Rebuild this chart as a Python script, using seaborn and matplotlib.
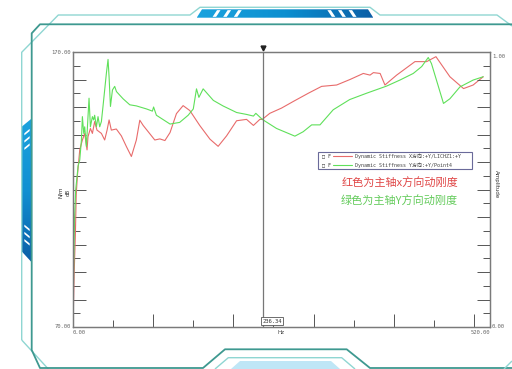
import numpy as np
import pandas as pd
import matplotlib
matplotlib.use("Agg")
import matplotlib.pyplot as plt
import seaborn as sns
from matplotlib.patches import Polygon, Rectangle
from matplotlib.lines import Line2D
from matplotlib.ticker import MultipleLocator

# ---------------- data ----------------
hz_x = [0, 1.5, 3, 4, 5.5, 8.4, 11.7, 14.6, 17.5, 18.7, 21.7, 24.2, 27, 29.9, 35.4, 39.5, 42.5,
        45, 47.8, 54, 60.3, 66.6, 72.8, 79, 83.3, 87.5, 93.8, 102, 108.3, 114.6, 121, 129, 137.3,
        145.7, 158, 170.8, 181, 191.5, 204, 216.4, 225, 233, 236, 245.4, 260, 274.6, 293.4, 310,
        328.8, 345.4, 362, 370.4, 374.6, 383, 389, 403.6, 426.4, 441, 452.6, 470, 487, 499, 511.5]
db_x = [70, 90, 104, 118, 125, 134.4, 138, 140.4, 134.4, 139.2, 142.2, 140.4, 144.7, 141.6, 140.4,
        138, 141.6, 145.3, 141.6, 142, 139.5, 135.6, 132, 138, 145.2, 143.3, 141, 138, 138.4,
        137.8, 140.7, 147.6, 150.5, 148.7, 143.3, 138.3, 135.7, 139.5, 145, 145.5, 143.3, 145.5,
        145.5, 147.7, 149.6, 152, 155, 157.5, 158, 160, 162.2, 161.6, 162.5, 162.2, 158, 161.6,
        166.5, 166.5, 168.3, 161, 156.7, 158, 161]

hz_y = [0, 0.8, 2, 3.4, 5.5, 6.3, 8.4, 10.5, 11.7, 13.4, 14.6, 16.7, 18.7, 20, 21.7, 24.2, 25.8,
        27, 29.2, 31.2, 33.3, 35.4, 37.4, 39.5, 41.6, 43.7, 45, 46.7, 49.2, 52, 54.2, 62.4, 70.8,
        79, 91.6, 99, 100.5, 104, 121, 133, 143.6, 150, 154, 157, 162.3, 175, 187, 204, 216.4,
        225, 228, 236, 253.8, 276.7, 287, 297.6, 308, 324.5, 345, 366, 391, 407.7, 424.3, 434.8,
        443, 447, 462, 470, 482.5, 499, 511.5]
db_y = [70, 90, 110, 120, 126, 128.5, 130.7, 138, 146.5, 140.4, 142.8, 135.6, 146.5, 153.2, 142.8,
        146.5, 145.3, 147, 142.8, 146.5, 142.8, 144.7, 150.2, 156.2, 162.2, 167.3, 160.9, 150.2,
        156.2, 157.5, 155.6, 153, 150.8, 150.4, 149.3, 148.5, 150, 147, 143.8, 144.4, 147, 149.3,
        156.6, 153.5, 156.6, 152.4, 150.4, 148, 147.3, 146.7, 147.7, 145.5, 142.2, 139.4, 141,
        143.5, 143.5, 149, 152.7, 155, 157.6, 159.8, 162.2, 164.7, 168, 165.8, 151.3, 153, 157.3,
        159.8, 161]

series_labels = ["Dynamic Stiffness X方向:+Y/LICHZ1:+Y", "Dynamic Stiffness Y方向:+Y/Point4"]
cursor_hz = 236.34
x_limits = [0, 520]
y_limits = [70, 170]
annot_red = "红色为主轴x方向动刚度"
annot_green = "绿色为主轴Y方向动刚度"

# ---------------- style ----------------
sns.set_style("white")
plt.rcParams['font.family'] = ['DejaVu Sans', 'Noto Sans CJK SC']
mono = ['DejaVu Sans Mono', 'Noto Sans CJK SC']

W, H = 512, 369
fig = plt.figure(figsize=(W / 100, H / 100), dpi=100)
fig.patch.set_facecolor('white')

def P(x, y):
    return (x / W, 1 - y / H)

# ---------------- decorative frame ----------------
light = '#8fd6d2'
dark = '#3e9990'
def fline(pts, color, lw):
    xs = [P(*p)[0] for p in pts]
    ys = [P(*p)[1] for p in pts]
    fig.add_artist(Line2D(xs, ys, color=color, lw=lw, transform=fig.transFigure, solid_capstyle='butt'))

fline([(21.7, 340), (21.7, 52.3), (58.3, 15), (190, 15), (200, 7.3), (370, 7.3), (380, 15),
       (497, 15), (512, 26)], light, 1.0)
fline([(21.7, 340), (48.3, 369)], light, 1.0)
fline([(512, 24.3), (40, 24.3), (31.7, 33.3), (31.7, 350), (40, 368), (203, 368), (225, 349.3),
       (346.7, 349.3), (370, 368), (512, 368)], dark, 1.3)
fline([(215, 369), (228.3, 357.7), (341.7, 357.7), (355, 369)], light, 1.0)
fline([(504, 369), (512, 361)], light, 1.0)

# top blue bar with gradient
grad = np.linspace(0, 1, 256).reshape(1, -1)
cmap_h = matplotlib.colors.LinearSegmentedColormap.from_list('b', ['#1ba3de', '#0c8fd0', '#0b5ea6'])
ax_bar = fig.add_axes([196.7 / W, 1 - 17.7 / H, (373.3 - 196.7) / W, (17.7 - 9.3) / H])
ax_bar.axis('off')
im = ax_bar.imshow(grad, aspect='auto', cmap=cmap_h, extent=[0, 1, 0, 1])
clip = Polygon([[0, 0], [0.03, 1], [0.97, 1], [1, 0]], closed=True, transform=ax_bar.transAxes,
               facecolor='none', edgecolor='none')
ax_bar.add_patch(clip)
im.set_clip_path(clip)
for x0 in [0.09, 0.15, 0.21]:
    ax_bar.add_patch(Polygon([[x0, 0.1], [x0 + 0.02, 0.1], [x0 + 0.045, 0.9], [x0 + 0.025, 0.9]],
                             closed=True, facecolor='white', edgecolor='none', transform=ax_bar.transAxes))
for x0 in [0.74, 0.80, 0.86]:
    ax_bar.add_patch(Polygon([[x0 + 0.025, 0.1], [x0 + 0.045, 0.1], [x0 + 0.02, 0.9], [x0, 0.9]],
                             closed=True, facecolor='white', edgecolor='none', transform=ax_bar.transAxes))

# left blue bar
cmap_v = matplotlib.colors.LinearSegmentedColormap.from_list('v', ['#0b5ea6', '#1190d2', '#1ba3de'])
ax_lb = fig.add_axes([21.7 / W, 1 - 263 / H, (32.3 - 21.7) / W, (263 - 118) / H])
ax_lb.axis('off')
im2 = ax_lb.imshow(grad.T, aspect='auto', cmap=cmap_v, extent=[0, 1, 0, 1], origin='lower')
clip2 = Polygon([[0, 0.08], [1, 0], [1, 1], [0, 0.94]], closed=True, transform=ax_lb.transAxes,
                facecolor='none', edgecolor='none')
ax_lb.add_patch(clip2)
im2.set_clip_path(clip2)
for y0 in [0.78, 0.83, 0.88]:
    ax_lb.add_patch(Polygon([[0.25, y0], [0.75, y0 + 0.03], [0.75, y0 + 0.045], [0.25, y0 + 0.015]],
                            closed=True, facecolor='white', edgecolor='none', transform=ax_lb.transAxes))
for y0 in [0.12, 0.17, 0.22]:
    ax_lb.add_patch(Polygon([[0.25, y0 + 0.03], [0.75, y0], [0.75, y0 + 0.015], [0.25, y0 + 0.045]],
                            closed=True, facecolor='white', edgecolor='none', transform=ax_lb.transAxes))

# bottom light panel
fig.add_artist(Polygon([P(231, 369), P(240, 361), P(331, 361), P(340, 369)], closed=True,
                       facecolor='#bfe6f6', edgecolor='none', transform=fig.transFigure))

# ---------------- main axes ----------------
ax = fig.add_axes([73 / W, 1 - 327 / H, 417 / W, 275 / H])
df = pd.concat([
    pd.DataFrame({'Hz': hz_x, 'dB': db_x, 'series': series_labels[0]}),
    pd.DataFrame({'Hz': hz_y, 'dB': db_y, 'series': series_labels[1]}),
])
sns.lineplot(data=df, x='Hz', y='dB', hue='series', palette=['#e86b6b', '#5fe05a'],
             linewidth=0.8, ax=ax, legend=False, sort=False, estimator=None)
ax.set_xlim(x_limits)
ax.set_ylim(y_limits)
ax.set_xlabel('')
ax.set_ylabel('')
for s in ax.spines.values():
    s.set_color('#7a7a7a')
    s.set_linewidth(0.9)

ax.xaxis.set_major_locator(MultipleLocator(100))
ax.xaxis.set_minor_locator(MultipleLocator(50))
ax.yaxis.set_major_locator(MultipleLocator(10))
ax.yaxis.set_minor_locator(MultipleLocator(5))
ax.tick_params(which='major', direction='in', length=9.4, width=0.7, color='#555555',
               labelbottom=False, labelleft=False, bottom=True, left=True)
ax.tick_params(which='minor', direction='in', length=5, width=0.7, color='#555555',
               bottom=True, left=True)

axr = ax.twinx()
axr.set_ylim(0, 1)
axr.yaxis.set_major_locator(MultipleLocator(0.1))
axr.yaxis.set_minor_locator(MultipleLocator(0.05))
axr.tick_params(which='major', direction='in', length=9.4, width=0.7, color='#555555', labelright=False)
axr.tick_params(which='minor', direction='in', length=5, width=0.7, color='#555555')
for s in axr.spines.values():
    s.set_color('#7a7a7a')
    s.set_linewidth(0.9)

# end labels
tk = dict(fontsize=4, color='#666666', family=mono)
ax.text(-0.005, 1.0, f"{y_limits[1]:.2f}", ha='right', va='center', transform=ax.transAxes, **tk)
ax.text(-0.005, 0.0, f"{y_limits[0]:.2f}", ha='right', va='center', transform=ax.transAxes, **tk)
ax.text(0.0, -0.012, f"{x_limits[0]:.2f}", ha='left', va='top', transform=ax.transAxes, **tk)
ax.text(1.0, -0.012, f"{x_limits[1]:.2f}", ha='right', va='top', transform=ax.transAxes, **tk)
ax.text(1.005, 0.985, "1.00", ha='left', va='center', transform=ax.transAxes, **tk)
ax.text(1.005, 0.0, "0.00", ha='left', va='center', transform=ax.transAxes, **tk)
ax.text(0.5, -0.012, "Hz", ha='center', va='top', transform=ax.transAxes, fontsize=4, color='#444444')
ax.text(-0.03, 0.49, "N/m", rotation=90, ha='center', va='center', transform=ax.transAxes,
        fontsize=4, color='#333333')
ax.text(-0.012, 0.49, "dB", rotation=90, ha='center', va='center', transform=ax.transAxes,
        fontsize=4, color='#333333')
ax.text(1.01, 0.52, "Amplitude", rotation=270, ha='left', va='center', transform=ax.transAxes,
        fontsize=4, color='#333333')

# cursor
ax.axvline(cursor_hz, color='#777777', lw=0.9)
ax.plot([cursor_hz], [y_limits[1] + 1.6], marker='v', color='#222222', markersize=3.5,
        clip_on=False, linestyle='none')
ax.text(cursor_hz, y_limits[0] + 1.2, f"{cursor_hz:.2f}", ha='left', va='bottom', fontsize=4,
        family=mono, color='#333333',
        bbox=dict(boxstyle='square,pad=0.25', facecolor='white', edgecolor='#555555', lw=0.6))

# legend box
ax.add_patch(Rectangle((0.588, 0.575), 0.369, 0.062, transform=ax.transAxes, facecolor='white',
                       edgecolor='#6a6a9a', lw=0.8, zorder=5))
leg_colors = ['#e86b6b', '#5fe05a']
for i, (lab, c) in enumerate(zip(series_labels, leg_colors)):
    yy = 0.622 - i * 0.032
    ax.text(0.597, yy, "□ F", fontsize=3.6, family=mono, va='center', ha='left',
            transform=ax.transAxes, zorder=6, color='#333333')
    ax.add_line(Line2D([0.624, 0.669], [yy, yy], color=c, lw=0.8, transform=ax.transAxes, zorder=6))
    ax.text(0.676, yy, lab, fontsize=3.6, family=mono, va='center', ha='left',
            transform=ax.transAxes, zorder=6, color='#444444')

# chinese annotations
ax.text(0.783, 0.525, annot_red, fontsize=8, color='#e04848', ha='center', va='center',
        transform=ax.transAxes, family=['Noto Sans CJK SC', 'DejaVu Sans'])
ax.text(0.783, 0.46, annot_green, fontsize=8, color='#66cc5e', ha='center', va='center',
        transform=ax.transAxes, family=['Noto Sans CJK SC', 'DejaVu Sans'])

fig.savefig('out.png', dpi=100, facecolor='white')
